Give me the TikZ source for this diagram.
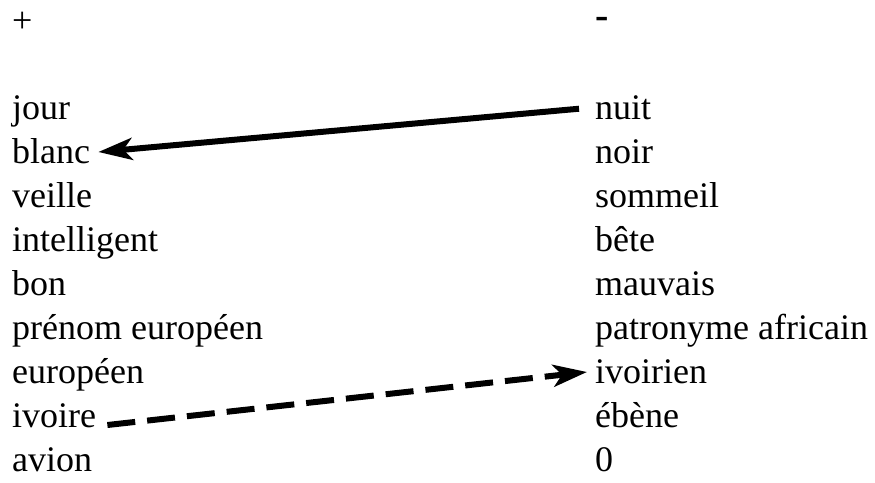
\documentclass[tikz,border=0pt]{standalone}
\usepackage{fontspec}
\setmainfont{Liberation Serif}
\usetikzlibrary{arrows.meta}

\begin{document}
\begin{tikzpicture}[x=1pt,y=-1pt,
  mot/.style={anchor=base west, inner ysep=0pt, inner xsep=8pt,
    font=\fontsize{36}{43}\selectfont, text height=24pt, text depth=2pt},
  lien/.style={line width=6pt, -{Stealth[length=34pt,width=22pt,inset=9pt]}}]
\useasboundingbox (0,0) rectangle (875,482);

% signes
\node[mot] (plus)  at (4,32)   {+};
\node[mot, text height=16pt, font=\fontsize{40}{43}\selectfont] (moins) at (587,28) {\textbf{-}};

% colonne +
\node[mot] (jour)        at (4,119) {jour};
\node[mot] (blanc)       at (4,163) {blanc};
\node[mot] (veille)      at (4,207) {veille};
\node[mot] (intelligent) at (4,251) {intelligent};
\node[mot] (bon)         at (4,295) {bon};
\node[mot] (prenom)      at (4,339) {prénom européen};
\node[mot] (europeen)    at (4,383) {européen};
\node[mot] (ivoire)      at (4,427) {ivoire};
\node[mot] (avion)       at (4,471) {avion};

% colonne -
\node[mot] (nuit)       at (587,119) {nuit};
\node[mot] (noir)       at (587,163) {noir};
\node[mot] (sommeil)    at (587,207) {sommeil};
\node[mot] (bete)       at (587,251) {bête};
\node[mot] (mauvais)    at (587,295) {mauvais};
\node[mot] (patronyme)  at (587,339) {patronyme africain};
\node[mot] (ivoirien)   at (587,383) {ivoirien};
\node[mot] (ebene)      at (587,427) {ébène};
\node[mot] (zero)       at (587,471) {0};

% liens
\draw[lien, shorten <=8pt] (nuit.west) -- (blanc.east);
\draw[lien, dash pattern=on 28pt off 12pt] ([xshift=3pt,yshift=2pt]ivoire.base east) -- (ivoirien.west);

\end{tikzpicture}
\end{document}
